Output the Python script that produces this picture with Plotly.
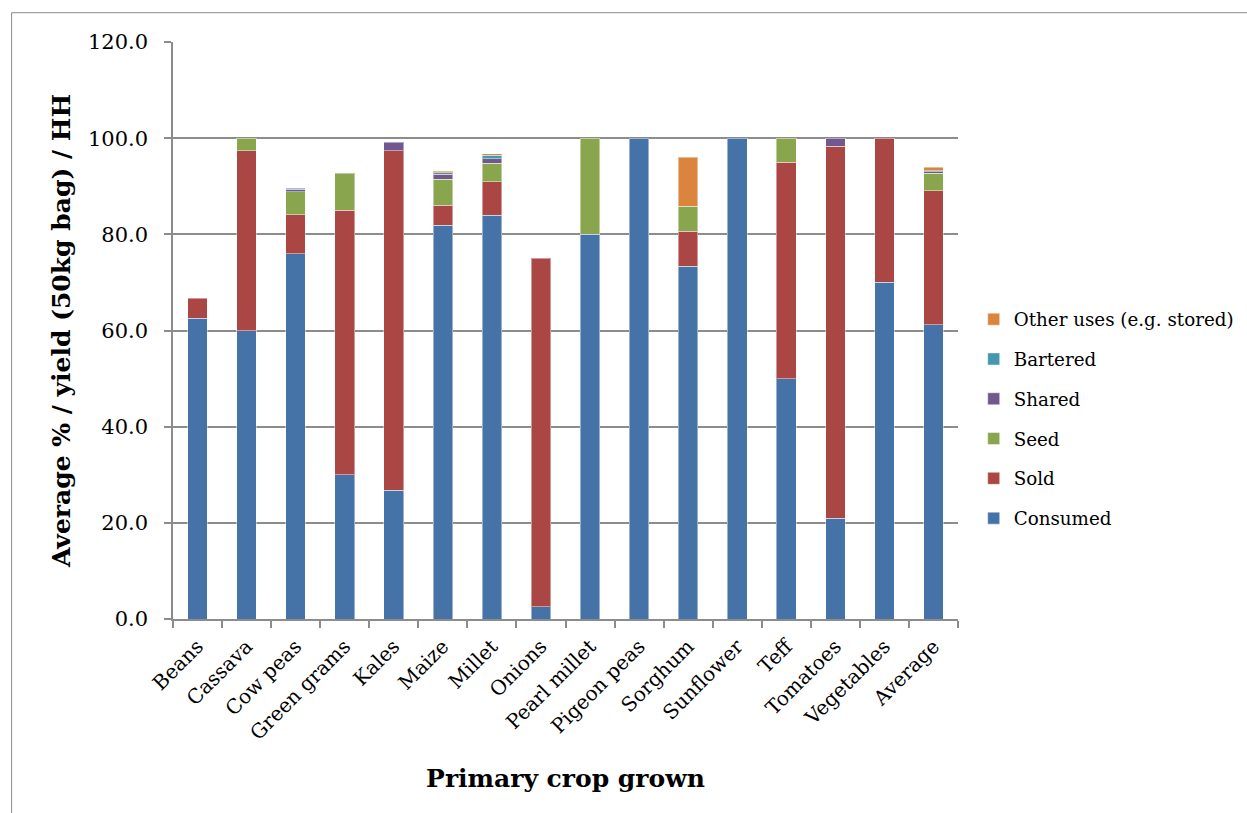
import plotly.graph_objects as go

# Primary crop grown and how the harvest was used (average % of yield per household)
crops = ["Beans", "Cassava", "Cow peas", "Green grams", "Kales", "Maize", "Millet",
         "Onions", "Pearl millet", "Pigeon peas", "Sorghum", "Sunflower", "Teff",
         "Tomatoes", "Vegetables", "Average"]

consumed = [62.5, 60.0, 76.0, 30.0, 26.8, 81.9, 84.0, 2.6, 80.0, 100.0, 73.4, 100.0, 50.0, 21.0, 70.0, 61.2]
sold = [4.2, 37.4, 8.1, 55.0, 70.6, 4.1, 6.9, 72.4, 0, 0, 7.2, 0, 45.0, 77.3, 30.0, 27.9]
seed = [0, 2.6, 4.8, 7.7, 0, 5.5, 3.9, 0, 20.0, 0, 5.2, 0, 5.0, 0, 0, 3.6]
shared = [0, 0, 0.5, 0, 1.8, 1.0, 0.9, 0, 0, 0, 0, 0, 0, 1.7, 0, 0.3]
bartered = [0, 0, 0.2, 0, 0, 0.3, 0.8, 0, 0, 0, 0, 0, 0, 0, 0, 0.2]
other_uses = [0, 0, 0, 0, 0, 0.3, 0.3, 0, 0, 0, 10.2, 0, 0, 0, 0, 0.8]

series = [
    ("Consumed", consumed, "#4572A7"),
    ("Sold", sold, "#AA4643"),
    ("Seed", seed, "#89A54E"),
    ("Shared", shared, "#71588F"),
    ("Bartered", bartered, "#4198AF"),
    ("Other uses (e.g. stored)", other_uses, "#DB843D"),
]

FONT = "DejaVu Serif"
GRID = "#8c8c8c"

fig = go.Figure()
for i, (name, vals, color) in enumerate(series):
    fig.add_trace(go.Bar(
        name=name,
        x=crops,
        y=[v if v else None for v in vals],
        marker=dict(color=color, line=dict(color="rgba(255,255,255,0.45)", width=1)),
        legendgroup=name,
        legendrank=len(series) - i,  # top of the stack listed first
    ))

fig.update_layout(
    barmode="stack",
    bargap=0.6,
    width=1247,
    height=813,
    margin=dict(l=173, r=289, t=42, b=194, autoexpand=False),
    paper_bgcolor="white",
    plot_bgcolor="white",
    font=dict(family=FONT, size=18, color="black"),
    legend=dict(
        traceorder="grouped",
        tracegroupgap=13,
        x=1.02, xanchor="left",
        y=0.347, yanchor="middle",
        font=dict(family=FONT, size=18.3, color="black"),
        itemwidth=30,
        bgcolor="rgba(0,0,0,0)",
    ),
    showlegend=True,
)

fig.update_xaxes(
    type="category",
    tickangle=-45,
    ticks="outside",
    tickson="boundaries",
    ticklen=7,
    tickcolor=GRID,
    tickwidth=1.5,
    showline=True,
    linecolor=GRID,
    linewidth=1.5,
    showgrid=False,
    tickfont=dict(family=FONT, size=20),
    ticklabelstandoff=6,
    title=dict(text="<b>Primary crop grown</b>", font=dict(family=FONT, size=25), standoff=26),
)

fig.update_yaxes(
    range=[0, 120],
    dtick=20,
    tickformat=".1f",
    ticks="outside",
    ticklen=7,
    tickcolor=GRID,
    tickwidth=1.5,
    showline=True,
    linecolor=GRID,
    linewidth=1.5,
    showgrid=True,
    gridcolor=GRID,
    gridwidth=1.5,
    zeroline=False,
    tickfont=dict(family=FONT, size=21),
    ticklabelstandoff=12,
    title=dict(text="<b>Average % / yield (50kg bag) / HH</b>", font=dict(family=FONT, size=25), standoff=10),
)

# Chart-area border along the top and left edges
fig.add_shape(type="line", xref="paper", yref="paper",
              x0=-0.2056, x1=1.4, y0=1.0508, y1=1.0508,
              line=dict(color=GRID, width=1))
fig.add_shape(type="line", xref="paper", yref="paper",
              x0=-0.2056, x1=-0.2056, y0=1.0508, y1=-0.35,
              line=dict(color=GRID, width=1))

fig.write_html("out.html")
